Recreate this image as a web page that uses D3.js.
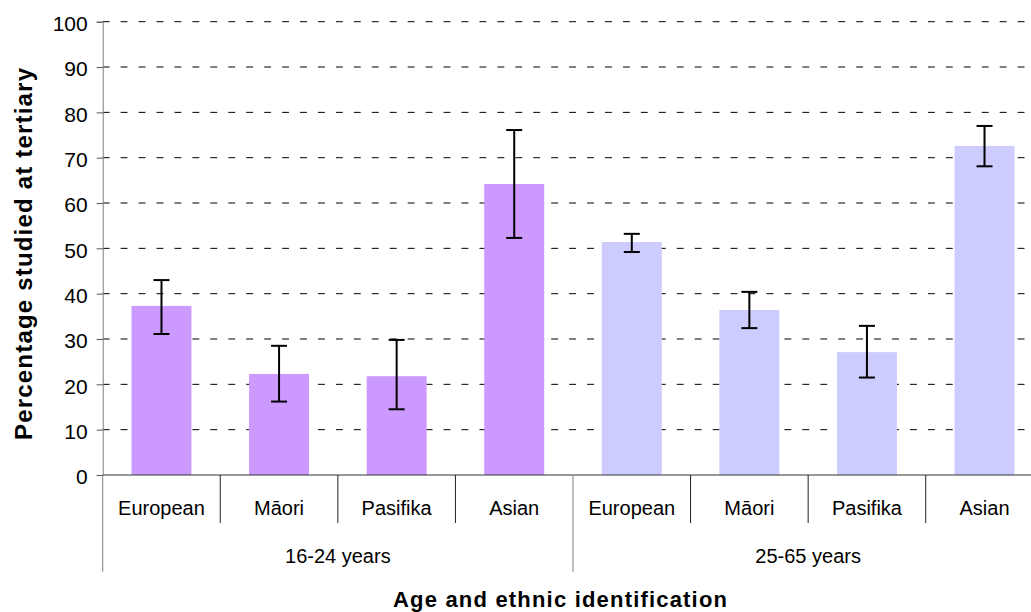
<!DOCTYPE html>
<html>
<head>
<meta charset="utf-8">
<script src="https://cdn.jsdelivr.net/npm/d3@7"></script>
<style>
  body { margin: 0; background: #fff; }
  svg { display: block; font-family: "Liberation Sans", Arial, sans-serif; }
</style>
</head>
<body>
<div class="box"></div>
<script>
// DATA
const groups = ["16-24 years", "25-65 years"];
const ethnicities = ["European", "Māori", "Pasifika", "Asian"];
const pct16to24 = [37.3, 22.3, 21.8, 64.2];
const low16to24 = [31.1, 16.2, 14.5, 52.3];
const high16to24 = [43.0, 28.5, 29.8, 76.1];
const pct25to65 = [51.4, 36.4, 27.1, 72.6];
const low25to65 = [49.2, 32.4, 21.5, 68.1];
const high25to65 = [53.2, 40.4, 32.9, 77.0];
const groupColors = ["#cc99ff", "#ccccff"];
const yTicks = [0, 10, 20, 30, 40, 50, 60, 70, 80, 90, 100];

// Flat rows, one per bar
const rows = [];
groups.forEach(function(g, gi) {
    const vals = gi == 0 ? pct16to24 : pct25to65;
    const lows = gi == 0 ? low16to24 : low25to65;
    const highs = gi == 0 ? high16to24 : high25to65;
    ethnicities.forEach(function(e, ei) {
        rows.push({group: g, gi: gi, eth: e, value: vals[ei], low: lows[ei], high: highs[ei], key: gi * 4 + ei});
    });
});

// Vars for the svg "box"
const w = 1031;
const h = 612;
const plotLeft = 102.7;
const plotRight = 1043.3;   // plot runs a little past the picture edge
const plotTop = 21.7;
const plotBottom = 475;

const svg = d3.select(".box")
    .append("svg")
    .attr("width", w)
    .attr("height", h);

const xScale = d3.scaleBand()
    .domain(rows.map(d => d.key))
    .range([plotLeft, plotRight])
    .padding(0);

const yScale = d3.scaleLinear()
    .domain([0, 100])
    .range([plotBottom, plotTop]);

const barW = xScale.bandwidth() * 0.51;

// GRIDLINES (dashed)
svg.append("g")
    .selectAll("line")
    .data(yTicks.filter(t => t > 0))
    .enter()
    .append("line")
    .attr("x1", plotLeft)
    .attr("x2", plotRight)
    .attr("y1", d => yScale(d))
    .attr("y2", d => yScale(d))
    .attr("stroke", "#000")
    .attr("stroke-width", 1)
    .attr("stroke-dasharray", "6.9,11.04");

// Y AXIS
const yAxis = d3.axisLeft(yScale)
    .tickValues(yTicks)
    .tickSize(6)
    .tickPadding(9);

const yG = svg.append("g")
    .attr("transform", "translate(" + plotLeft + ",0)")
    .call(yAxis);
yG.select(".domain").attr("stroke", "#7f7f7f");
yG.selectAll(".tick line").attr("stroke", "#555");
yG.selectAll(".tick text")
    .style("font-size", "21px")
    .style("font-family", "'Liberation Sans', Arial, sans-serif")
    .attr("fill", "#000")
    .attr("dy", "0.42em");

// BARS
svg.append("g")
    .selectAll("rect")
    .data(rows)
    .enter()
    .append("rect")
    .attr("x", d => xScale(d.key) + (xScale.bandwidth() - barW) / 2)
    .attr("y", d => yScale(d.value))
    .attr("width", barW)
    .attr("height", d => yScale(0) - yScale(d.value))
    .style("fill", d => groupColors[d.gi]);

// ERROR BARS
const err = svg.append("g")
    .attr("stroke", "#000")
    .attr("stroke-width", 2);
const capHalf = 8;
rows.forEach(function(d) {
    const cx = xScale(d.key) + xScale.bandwidth() / 2;
    err.append("line")
        .attr("x1", cx).attr("x2", cx)
        .attr("y1", yScale(d.high)).attr("y2", yScale(d.low));
    err.append("line")
        .attr("x1", cx - capHalf).attr("x2", cx + capHalf)
        .attr("y1", yScale(d.high)).attr("y2", yScale(d.high));
    err.append("line")
        .attr("x1", cx - capHalf).attr("x2", cx + capHalf)
        .attr("y1", yScale(d.low)).attr("y2", yScale(d.low));
});

// X AXIS LINE
svg.append("line")
    .attr("x1", plotLeft)
    .attr("x2", plotRight)
    .attr("y1", plotBottom)
    .attr("y2", plotBottom)
    .attr("stroke", "#333")
    .attr("stroke-width", 1);

// CATEGORY SEPARATORS + LABELS
const sep = svg.append("g");
rows.forEach(function(d) {
    const x0 = xScale(d.key);
    const first = d.key % 4 == 0;
    sep.append("line")
        .attr("x1", x0).attr("x2", x0)
        .attr("y1", plotBottom)
        .attr("y2", first ? 571.7 : 523)
        .attr("stroke", first ? "#7f7f7f" : "#222")
        .attr("stroke-width", 1);
});

svg.append("g")
    .selectAll("text")
    .data(rows)
    .enter()
    .append("text")
    .attr("x", d => xScale(d.key) + xScale.bandwidth() / 2)
    .attr("y", 515)
    .attr("text-anchor", "middle")
    .attr("font-size", "20px")
    .text(d => d.eth);

// GROUP LABELS
svg.append("g")
    .selectAll("text")
    .data(groups)
    .enter()
    .append("text")
    .attr("x", (d, i) => (xScale(i * 4) + xScale(i * 4 + 3) + xScale.bandwidth()) / 2)
    .attr("y", 563)
    .attr("text-anchor", "middle")
    .attr("font-size", "20px")
    .text(d => d);

// AXIS TITLES
svg.append("text")
    .attr("x", 560)
    .attr("y", 607)
    .attr("text-anchor", "middle")
    .attr("font-size", "22px")
    .attr("font-weight", "bold")
    .attr("textLength", 334)
    .attr("lengthAdjust", "spacing")
    .text("Age and ethnic identification");

svg.append("text")
    .attr("transform", "translate(32,254) rotate(-90)")
    .attr("text-anchor", "middle")
    .attr("font-size", "24px")
    .attr("font-weight", "bold")
    .attr("textLength", 372)
    .attr("lengthAdjust", "spacing")
    .text("Percentage studied at tertiary");
</script>
</body>
</html>
